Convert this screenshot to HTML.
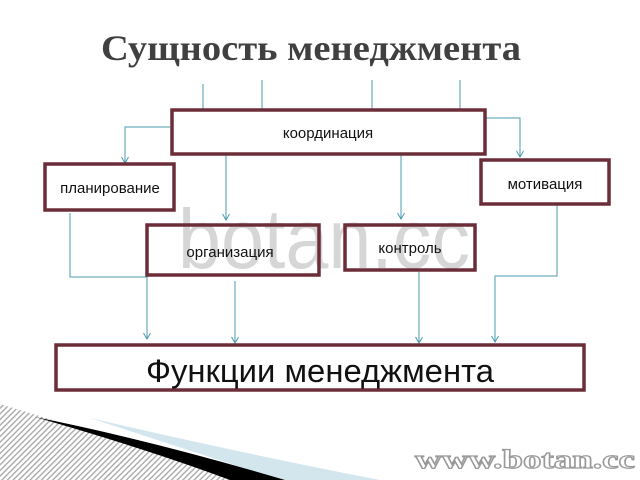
<!DOCTYPE html>
<html><head><meta charset="utf-8"><style>
html,body{margin:0;padding:0;background:#fff;}
svg{display:block;}
</style></head><body>
<svg width="640" height="480" viewBox="0 0 640 480" xmlns="http://www.w3.org/2000/svg">
<defs>
<pattern id="h" width="4" height="4" patternUnits="userSpaceOnUse" patternTransform="rotate(45)">
<rect width="4" height="4" fill="#fff"/><rect width="1.4" height="4" fill="#aaa"/>
</pattern>
<marker id="a" markerWidth="10" markerHeight="10" refX="7" refY="4" orient="auto" markerUnits="userSpaceOnUse">
<path d="M1,0.5 L7,4 L1,7.5" fill="none" stroke="#4a9bb0" stroke-width="1"/>
</marker>
</defs>
<rect x="0" y="0" width="640" height="480" fill="#fff"/>
<path d="M0,404 Q120,440 235,480 L0,480 Z" fill="url(#h)"/>
<path d="M90,418 Q250,455 380,480 L280,480 Z" fill="#d3e6ee"/>
<path d="M35,417 Q150,450 230,480 L285,480 Q150,440 35,417 Z" fill="#000"/>
<text x="311" y="60" text-anchor="middle" font-family="Liberation Serif, serif" font-weight="bold" font-size="36" fill="#404040" textLength="420" lengthAdjust="spacingAndGlyphs">Сущность менеджмента</text>
<g stroke="#4a9bb0" stroke-width="1" fill="none">
<line x1="203" y1="84" x2="203" y2="109"/>
<line x1="262" y1="80" x2="262" y2="109"/>
<line x1="372" y1="80" x2="372" y2="109"/>
<line x1="460" y1="80" x2="460" y2="109"/>
<polyline points="170,127 125,127 125,163" marker-end="url(#a)"/>
<polyline points="486,118 520,118 520,157" marker-end="url(#a)"/>
<line x1="226" y1="155" x2="226" y2="220" marker-end="url(#a)"/>
<line x1="401" y1="155" x2="401" y2="219" marker-end="url(#a)"/>
<polyline points="70,213 70,277 147,277 147,339" marker-end="url(#a)"/>
<line x1="235" y1="281" x2="235" y2="343" marker-end="url(#a)"/>
<line x1="419" y1="272" x2="419" y2="343" marker-end="url(#a)"/>
<polyline points="557,205 557,276 495,276 495,342" marker-end="url(#a)"/>
</g>
<g fill="#fff" stroke="none">
<rect x="172" y="110" width="313" height="44"/>
<rect x="45" y="164" width="129" height="46"/>
<rect x="481" y="160" width="128" height="44"/>
<rect x="147" y="225" width="172" height="50"/>
<rect x="345" y="225" width="130" height="45"/>
<rect x="56" y="345" width="528" height="45"/>
</g>
<text x="178" y="268" font-family="Liberation Sans, sans-serif" font-size="84" fill="#d6d6d6" textLength="292" lengthAdjust="spacingAndGlyphs">botan.cc</text>
<g fill="none" stroke="#6b2d38" stroke-width="3.5">
<rect x="172" y="110" width="313" height="44"/>
<rect x="45" y="164" width="129" height="46"/>
<rect x="481" y="160" width="128" height="44"/>
<rect x="147" y="225" width="172" height="50"/>
<rect x="345" y="225" width="130" height="45"/>
<rect x="56" y="345" width="528" height="45"/>
</g>
<g font-family="Liberation Sans, sans-serif" fill="#111" text-anchor="middle">
<text x="328" y="138" font-size="15">координация</text>
<text x="110" y="193" font-size="15">планирование</text>
<text x="545" y="189" font-size="15">мотивация</text>
<text x="230" y="257" font-size="15">организация</text>
<text x="410" y="253" font-size="15">контроль</text>
<text x="320" y="382" font-size="32" textLength="348" lengthAdjust="spacingAndGlyphs">Функции менеджмента</text>
</g>
<text x="415" y="468" font-family="Liberation Serif, serif" font-weight="bold" font-size="26" fill="#fff" stroke="#999" stroke-width="1.2" textLength="220" lengthAdjust="spacingAndGlyphs">www.botan.cc</text>
</svg>
</body></html>
